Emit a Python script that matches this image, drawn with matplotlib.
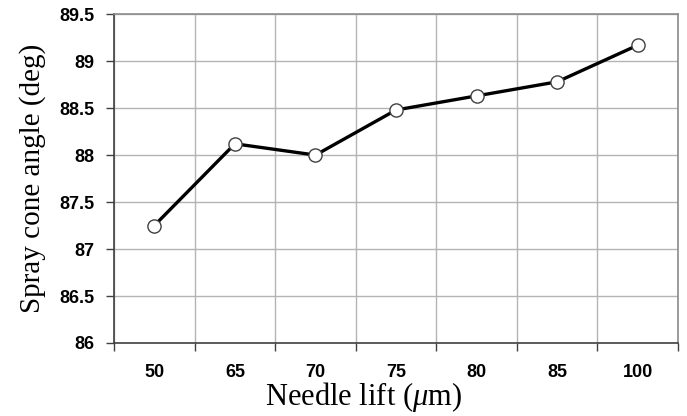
import matplotlib
matplotlib.use("Agg")
import matplotlib.pyplot as plt
import numpy as np

# Data
needle_lift = ["50", "65", "70", "75", "80", "85", "100"]
cone_angle = [87.25, 88.12, 88.00, 88.48, 88.63, 88.78, 89.17]
y_ticks = [86, 86.5, 87, 87.5, 88, 88.5, 89, 89.5]
y_tick_labels = ["86", "86.5", "87", "87.5", "88", "88.5", "89", "89.5"]

plt.rcParams["mathtext.fontset"] = "custom"
plt.rcParams["mathtext.it"] = "Liberation Serif:italic"
plt.rcParams["mathtext.rm"] = "Liberation Serif"

fig = plt.figure(figsize=(6.87, 4.16), dpi=100)
ax = fig.add_axes([0.166, 0.1755, 0.821, 0.7905])

x = np.arange(len(needle_lift))
ax.plot(x, cone_angle, color="black", linewidth=2.4, marker="o",
        markersize=9.5, markerfacecolor="white", markeredgecolor="#404040",
        markeredgewidth=1.0, zorder=3)

ax.set_xlim(-0.5, len(needle_lift) - 0.5)
ax.set_ylim(86, 89.5)

# category labels centred, ticks/grid at boundaries
ax.set_xticks(x)
ax.set_xticklabels(needle_lift, fontfamily="Liberation Sans",
                   fontweight="bold", fontsize=13)
ax.set_xticks(np.arange(len(needle_lift) + 1) - 0.5, minor=True)
ax.tick_params(axis="x", which="major", length=0, pad=15)
ax.tick_params(axis="x", which="minor", length=6, width=1, color="#404040")

ax.set_yticks(y_ticks)
ax.set_yticklabels(y_tick_labels, fontfamily="Liberation Sans",
                   fontweight="bold", fontsize=13)
ax.tick_params(axis="y", length=6, width=1, color="#404040", pad=8)

ax.grid(True, axis="y", which="major", color="#b4b4b4", linewidth=1)
ax.grid(True, axis="x", which="minor", color="#b4b4b4", linewidth=1)
ax.set_axisbelow(True)

for side in ("left", "bottom"):
    ax.spines[side].set_color("#404040")
    ax.spines[side].set_linewidth(1.2)
for side in ("top", "right"):
    ax.spines[side].set_color("#8c8c8c")
    ax.spines[side].set_linewidth(1.2)

ax.set_xlabel(r"Needle lift ($\mu$m)", fontfamily="Liberation Serif",
              fontsize=22)
ax.xaxis.set_label_coords(0.442, -0.112)
ax.set_ylabel("Spray cone angle (deg)", fontfamily="Liberation Serif",
              fontsize=21, labelpad=10)

fig.savefig("out.png", dpi=100)
